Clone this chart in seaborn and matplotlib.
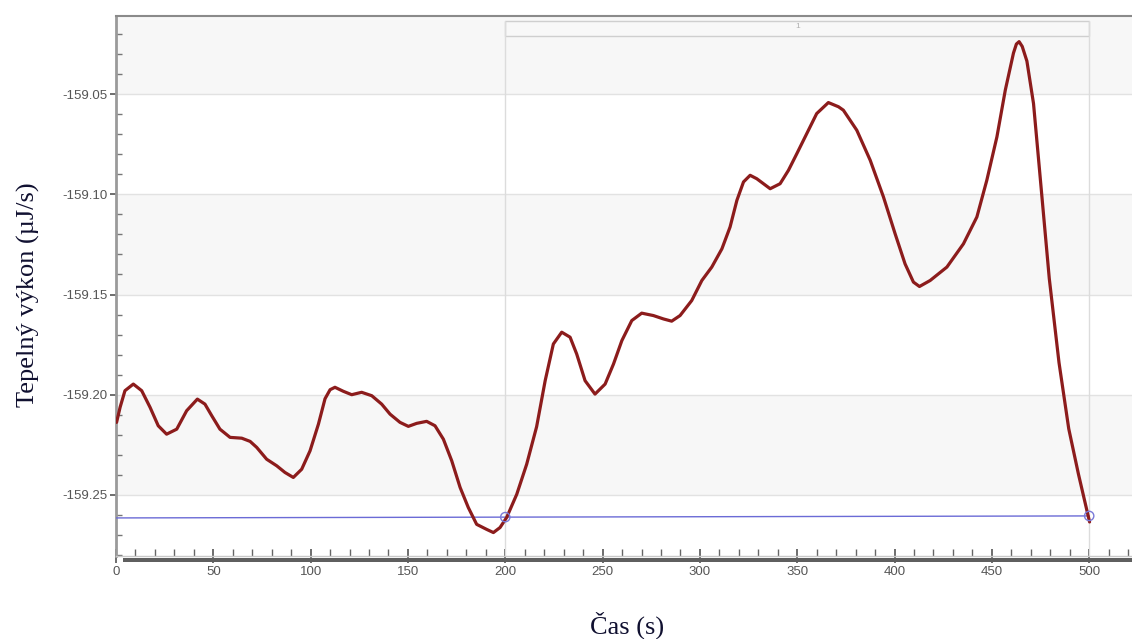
import numpy as np
import pandas as pd
import matplotlib
matplotlib.use("Agg")
import matplotlib.pyplot as plt
from matplotlib.patches import Rectangle
from matplotlib.ticker import MultipleLocator, FuncFormatter
import seaborn as sns

# Heat flow trace (time in s, power in µJ/s)
cas = [0.3, 2.1, 4.6, 8.9, 13.2, 17.5, 21.7, 26.0, 31.2, 36.3, 41.8, 45.7,
       49.2, 53.4, 58.6, 64.6, 68.9, 72.3, 77.4, 82.6, 86.8, 91.1, 95.4,
       99.7, 104.0, 107.4, 110.0, 112.5, 116.8, 121.1, 126.2, 131.4, 136.5,
       140.8, 145.9, 150.2, 154.5, 159.6, 163.9, 168.2, 172.5, 176.8, 181.0,
       185.3, 190.4, 193.9, 197.3, 200.7, 205.9, 211.0, 216.1, 220.5, 224.7,
       229.0, 233.3, 236.7, 241.0, 246.1, 251.3, 255.6, 259.9, 265.0, 270.1,
       276.1, 281.3, 285.5, 289.8, 295.8, 301.0, 306.1, 311.3, 315.5, 319.0,
       322.4, 325.8, 329.2, 336.1, 341.2, 345.5, 349.8, 354.9, 360.0, 366.0,
       371.2, 373.7, 380.6, 387.5, 394.3, 400.3, 405.4, 409.7, 412.8, 418.3,
       426.9, 435.4, 442.3, 447.4, 452.6, 456.9, 461.1, 462.6, 464.0, 465.6,
       468.0, 471.4, 474.5, 479.5, 484.5, 489.5, 494.5, 500.2]
vykon = [-159.2138, -159.2063, -159.1980, -159.1947, -159.1980, -159.2063,
         -159.2155, -159.2197, -159.2172, -159.2080, -159.2022, -159.2047,
         -159.2105, -159.2172, -159.2213, -159.2217, -159.2233, -159.2263,
         -159.2322, -159.2355, -159.2388, -159.2413, -159.2372, -159.2280,
         -159.2147, -159.2020, -159.1975, -159.1963, -159.1983, -159.2000,
         -159.1988, -159.2005, -159.2047, -159.2097, -159.2138, -159.2158,
         -159.2143, -159.2133, -159.2155, -159.2222, -159.2330, -159.2463,
         -159.2563, -159.2647, -159.2672, -159.2688, -159.2663, -159.2613,
         -159.2497, -159.2347, -159.2160, -159.1930, -159.1747, -159.1688,
         -159.1713, -159.1797, -159.1930, -159.1997, -159.1947, -159.1847,
         -159.1730, -159.1630, -159.1593, -159.1605, -159.1622, -159.1633,
         -159.1605, -159.1530, -159.1430, -159.1363, -159.1272, -159.1163,
         -159.1030, -159.0938, -159.0905, -159.0922, -159.0972, -159.0947,
         -159.0880, -159.0797, -159.0697, -159.0597, -159.0542, -159.0563,
         -159.0580, -159.0680, -159.0830, -159.1013, -159.1197, -159.1347,
         -159.1438, -159.1460, -159.1430, -159.1363, -159.1247, -159.1113,
         -159.0930, -159.0713, -159.0480, -159.0295, -159.0250, -159.0238,
         -159.0262, -159.0335, -159.0547, -159.0880, -159.1420, -159.1840,
         -159.2170, -159.2397, -159.2635]

# Integration baseline between the selected limits
zaklad_cas = [0, 200, 500]
zaklad_vykon = [-159.2615, -159.2611, -159.2605]
meze = [200, 500]

y_ticks = [-159.25, -159.20, -159.15, -159.10, -159.05]
x_ticks = [0, 50, 100, 150, 200, 250, 300, 350, 400, 450, 500]

sns.set_theme(style="white")
plt.rcParams["font.family"] = ["Liberation Sans", "DejaVu Sans"]

fig = plt.figure(figsize=(11.32, 6.39), dpi=100)
ax = fig.add_axes([116 / 1132, 1 - 556 / 639, 1 - 116 / 1132, 540 / 639])

xmin, xmax = 0, 522
ymin, ymax = -159.2805, -159.011
ax.set_xlim(xmin, xmax)
ax.set_ylim(ymin, ymax)

# alternating horizontal bands
band = "#f7f7f7"
ax.axhspan(-159.05, ymax, color=band, zorder=0, lw=0)
ax.axhspan(-159.15, -159.10, color=band, zorder=0, lw=0)
ax.axhspan(-159.25, -159.20, color=band, zorder=0, lw=0)
for yt in y_ticks:
    ax.axhline(yt, color="#e2e2e2", lw=1.0, zorder=1)

# selected range: vertical limits and header bracket
top_b, bot_b = 1 - 5 / 540, 1 - 20 / 540
trans = ax.get_xaxis_transform()
ax.add_patch(Rectangle((meze[0], bot_b), meze[1] - meze[0], top_b - bot_b,
                       transform=trans, facecolor="#f8f8f8",
                       edgecolor="#cfcfcf", lw=1.0, zorder=2))
for m in meze:
    ax.plot([m, m], [0, top_b], transform=trans, color="#dcdcdc", lw=1.0,
            zorder=2)
ax.text(sum(meze) / 2, (top_b + bot_b) / 2 + 0.003, "1", transform=trans,
        ha="center", va="center", fontsize=6, color="#b0b0b0", zorder=3)

# baseline
sns.lineplot(x=zaklad_cas, y=zaklad_vykon, ax=ax, color="#6b6bd6", lw=1.0,
             zorder=3, estimator=None, sort=False)

# measured curve
df = pd.DataFrame({"cas": cas, "vykon": vykon})
sns.lineplot(data=df, x="cas", y="vykon", ax=ax, color="#8c1c1c", lw=2.3,
             zorder=4, estimator=None, sort=False)
ax.lines[-1].set_solid_joinstyle("round")

# limit markers on the baseline
ax.scatter([zaklad_cas[1], zaklad_cas[2]], [zaklad_vykon[1], zaklad_vykon[2]],
           s=45, facecolors="none", edgecolors="#7a7ad8", lw=1.0, zorder=5)

# axes styling
ax.spines["right"].set_visible(False)
ax.spines["left"].set_color("#9a9a9a")
ax.spines["left"].set_linewidth(2.0)
ax.spines["top"].set_color("#8a8a8a")
ax.spines["top"].set_linewidth(1.5)
ax.spines["bottom"].set_color("#c8c8c8")
ax.spines["bottom"].set_linewidth(1.0)

ax.add_patch(Rectangle((7 / 1016, -6 / 540), 1 - 7 / 1016, 4.5 / 540,
                       transform=ax.transAxes, facecolor="#5f5f5f",
                       edgecolor="none", clip_on=False, zorder=6))

ax.xaxis.set_minor_locator(MultipleLocator(10))
ax.yaxis.set_minor_locator(MultipleLocator(0.01))
ax.set_xticks(x_ticks)
ax.set_yticks(y_ticks)
ax.yaxis.set_major_formatter(FuncFormatter(lambda v, p: f"{v:.2f}"))

ax.tick_params(axis="x", which="major", direction="inout", length=10,
               width=1.2, color="#555555", labelsize=9.5,
               labelcolor="#555555", pad=2, bottom=True)
ax.tick_params(axis="x", which="minor", direction="in", length=5, width=1.0,
               color="#666666", bottom=True)
ax.tick_params(axis="y", which="major", direction="out", length=4,
               width=1.2, color="#555555", labelsize=9.5,
               labelcolor="#555555", pad=2, left=True)
ax.tick_params(axis="y", which="minor", direction="in", length=4, width=1.0,
               color="#777777", left=True)

ax.set_xlabel("")
ax.set_ylabel("")
fig.text(28 / 1132, 1 - 295 / 639, "Tepelný výkon (µJ/s)", rotation=90,
         ha="center", va="center", fontsize=19, color="#101030",
         family=["Liberation Serif", "DejaVu Serif"])
fig.text(627 / 1132, 1 - 625 / 639, "Čas (s)", ha="center", va="center",
         fontsize=19, color="#101030",
         family=["Liberation Serif", "DejaVu Serif"])

fig.savefig("out.png", dpi=100)
